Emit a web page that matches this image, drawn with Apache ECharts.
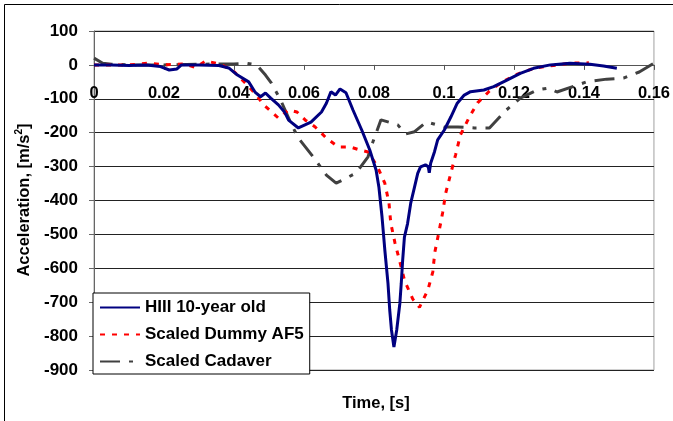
<!DOCTYPE html>
<html>
<head>
<meta charset="utf-8">
<script src="https://cdn.jsdelivr.net/npm/echarts@6/dist/echarts.min.js"></script>
<style>
html,body{margin:0;padding:0;background:#fff;}
#chart{width:673px;height:421px;}
</style>
</head>
<body>
<div id="chart"></div>
<script>
// ---- data (time [s], acceleration [m/s^2]) ----
var seriesNames = ['HIII 10-year old', 'Scaled Dummy AF5', 'Scaled Cadaver'];

var hiiiT = [0, 0.005, 0.010, 0.015, 0.019, 0.0215, 0.0237, 0.025, 0.03, 0.0357, 0.0385, 0.041, 0.0442, 0.046, 0.0476, 0.049, 0.0505, 0.0527, 0.0545, 0.0556, 0.0584, 0.062, 0.065, 0.0664, 0.0677, 0.069, 0.0703, 0.072, 0.074, 0.0765, 0.0788, 0.0806, 0.0814, 0.0823, 0.0831, 0.084, 0.0845, 0.085, 0.0857, 0.0865, 0.0874, 0.0878, 0.0882, 0.0887, 0.0896, 0.0905, 0.0916, 0.0925, 0.0933, 0.0947, 0.0955, 0.0958, 0.0962, 0.0973, 0.0982, 0.1001, 0.102, 0.1038, 0.1058, 0.1076, 0.1114, 0.1142, 0.118, 0.1218, 0.1256, 0.1304, 0.136, 0.1417, 0.1456, 0.1494];
var hiiiV = [0, 0, -2, 0, -5, -15, -12, 0, 0, -2, -9, -30, -50, -80, -94, -83, -98, -118, -140, -163, -186, -169, -139, -113, -79, -89, -71, -82, -133, -192, -251, -310, -360, -448, -546, -644, -723, -782, -832, -782, -703, -644, -576, -508, -468, -408, -360, -320, -301, -295, -300, -318, -290, -256, -221, -192, -153, -113, -89, -79, -74, -64, -45, -25, -10, 0, 5, 2, -3, -10];

var af5T = [0, 0.005, 0.01, 0.0155, 0.02, 0.026, 0.029, 0.032, 0.0366, 0.04, 0.0433, 0.046, 0.0485, 0.0527, 0.0556, 0.058, 0.0604, 0.0632, 0.0664, 0.0698, 0.0732, 0.076, 0.0783, 0.0809, 0.0831, 0.0843, 0.0848, 0.086, 0.0874, 0.0888, 0.0911, 0.093, 0.0954, 0.0968, 0.0974, 0.0985, 0.0996, 0.1005, 0.1019, 0.1033, 0.1047, 0.1073, 0.1096, 0.113, 0.1167, 0.121, 0.1257, 0.1303, 0.136, 0.1414];
var af5V = [0, 0, 0, 5, 0, 3, -8, 12, 0, -20, -54, -84, -118, -157, -133, -139, -163, -183, -216, -242, -242, -251, -257, -298, -349, -408, -467, -525, -581, -638, -691, -715, -664, -611, -552, -496, -437, -378, -322, -266, -207, -153, -112, -77, -50, -27, -10, -3, 5, 6];

var cadT = [0, 0.0025, 0.005, 0.01, 0.02, 0.03, 0.04, 0.0435, 0.0465, 0.049, 0.0507, 0.0533, 0.0565, 0.0584, 0.0626, 0.0664, 0.0692, 0.0749, 0.0783, 0.0797, 0.082, 0.0868, 0.089, 0.0916, 0.095, 0.1, 0.104, 0.1087, 0.113, 0.1175, 0.1218, 0.1266, 0.13, 0.1323, 0.1408, 0.1465, 0.1513, 0.1558, 0.16];
var cadV = [20, 5, 2, 0, 0, 2, 3, 5, 0, -30, -54, -103, -177, -216, -271, -325, -349, -319, -271, -227, -162, -177, -204, -197, -168, -183, -183, -186, -186, -136, -98, -74, -68, -80, -50, -42, -39, -21, 5];

var xTicks = {min: 0, max: 0.16, interval: 0.02};
var yTicks = {min: -900, max: 100, interval: 100};

function pairs(t, v) { return t.map(function (x, i) { return [x, v[i]]; }); }

var GRID = {left: 94, right: 15, top: 31, bottom: 51};
var gridH = 421 - GRID.top - GRID.bottom;
// x axis crosses the value axis at 0: shift it up from the bottom edge
var xAxisOffset = -((0 - yTicks.min) / (yTicks.max - yTicks.min)) * gridH;

var FONT = 'Liberation Sans, Arial, sans-serif';
var chart = echarts.init(document.getElementById('chart'), null, {renderer: 'canvas'});
chart.setOption({
  backgroundColor: '#fff',
  animation: false,
  grid: {left: GRID.left, right: GRID.right, top: GRID.top, bottom: GRID.bottom, show: true, borderColor: '#a0a0a0', borderWidth: 1},
  xAxis: {
    type: 'value', min: xTicks.min, max: xTicks.max, interval: xTicks.interval,
    position: 'bottom', offset: xAxisOffset,
    axisLine: {show: true, onZero: false, lineStyle: {color: '#555', width: 1}},
    axisTick: {show: true, inside: false, length: 5, lineStyle: {color: '#555'}},
    axisLabel: {fontFamily: FONT, fontWeight: 'bold', fontSize: 16.5, color: '#000', margin: 20,
      formatter: function (v) { return String(+v.toFixed(2)); }},
    splitLine: {show: false}
  },
  yAxis: {
    type: 'value', min: yTicks.min, max: yTicks.max, interval: yTicks.interval,
    axisLine: {show: true, lineStyle: {color: '#666', width: 1}},
    axisTick: {show: true, inside: false, length: 5, lineStyle: {color: '#666'}},
    axisLabel: {fontFamily: FONT, fontWeight: 'bold', fontSize: 17, color: '#000', margin: 16},
    splitLine: {show: true, lineStyle: {color: '#222', width: 1}}
  },
  legend: {
    orient: 'vertical', left: 93, top: 293,
    backgroundColor: '#fff', borderColor: '#000', borderWidth: 1,
    padding: [6, 6, 4, 6],
    itemWidth: 40, itemHeight: 14, itemGap: 10,
    textStyle: {fontFamily: FONT, fontWeight: 'bold', fontSize: 17, color: '#000', lineHeight: 16},
    itemStyle: {opacity: 0},
    data: seriesNames
  },
  series: [
    {name: seriesNames[0], type: 'line', data: pairs(hiiiT, hiiiV), symbol: 'none', z: 5,
     lineStyle: {color: '#000080', width: 3}, itemStyle: {color: '#000080'}},
    {name: seriesNames[1], type: 'line', data: pairs(af5T, af5V), symbol: 'none', z: 4,
     lineStyle: {color: '#ff0000', width: 3, type: [5, 7]}, itemStyle: {color: '#ff0000'}},
    {name: seriesNames[2], type: 'line', data: pairs(cadT, cadV), symbol: 'none', z: 3,
     lineStyle: {color: '#404040', width: 3, type: [20, 9, 4, 9]}, itemStyle: {color: '#404040'}}
  ],
  graphic: [
    {type: 'rect', shape: {x: 4.5, y: 4.5, width: 720, height: 520}, style: {fill: 'none', stroke: '#000', lineWidth: 1}, silent: true},
    {type: 'text', x: 24, y: 200, rotation: Math.PI / 2,
     style: {text: '{n|Acceleration, [m/s}{s|2}{n|]}', align: 'center', verticalAlign: 'middle',
       rich: {n: {fontFamily: FONT, fontWeight: 'bold', fontSize: 16.5, fill: '#000', lineHeight: 20},
              s: {fontFamily: FONT, fontWeight: 'bold', fontSize: 10, fill: '#000', verticalAlign: 'top', lineHeight: 20, padding: [0, 0, 8, 0]}}}},
    {type: 'text', x: 376, y: 403,
     style: {text: 'Time, [s]', align: 'center', verticalAlign: 'middle', fontFamily: FONT, fontWeight: 'bold', fontSize: 16.5, fill: '#000'}}
  ]
});
</script>
</body>
</html>
